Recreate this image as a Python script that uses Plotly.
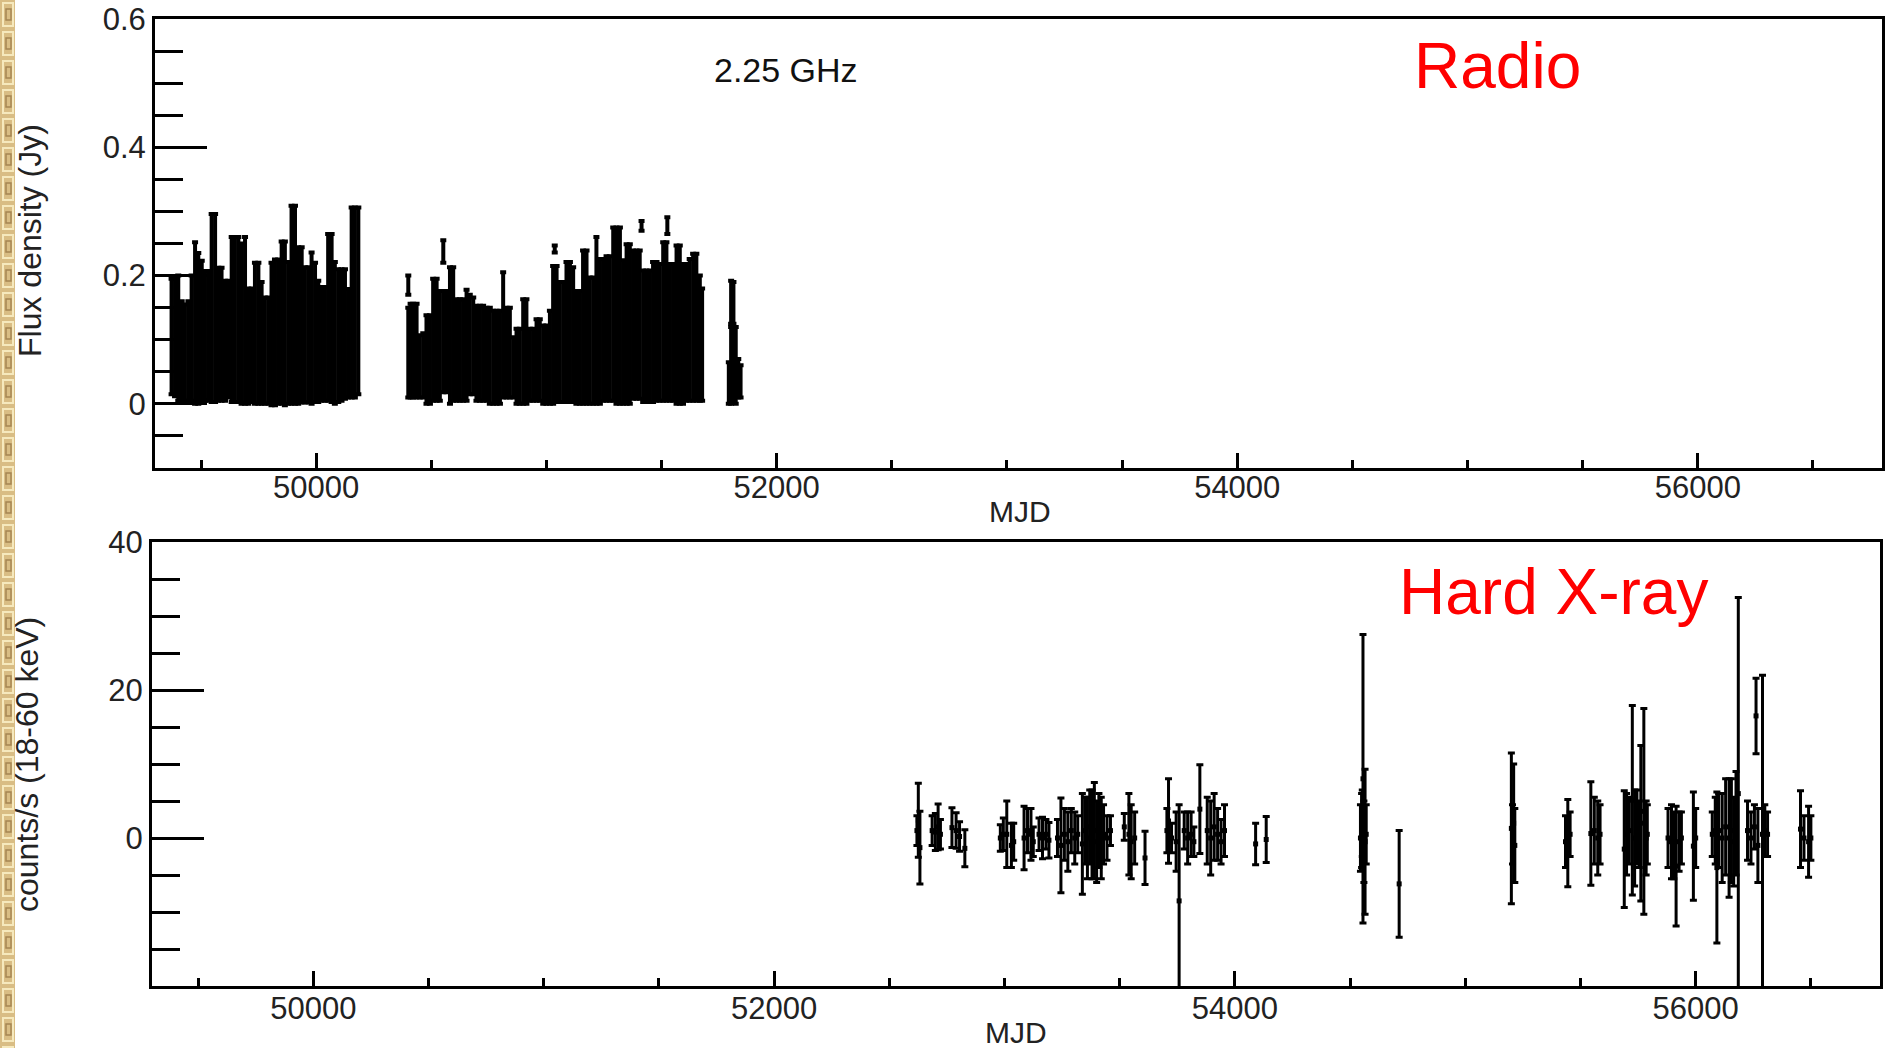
import plotly.graph_objects as go

W, H = 1886, 1048

# ---------------- Radio (2.25 GHz) : columns of error bars (MJD, upper, lower) ----------------
radio_mjd = [
    49372, 49387, 49401, 49416, 49430, 49445, 49459, 49474, 49488, 49503,
    49517, 49532, 49546, 49561, 49575, 49589, 49604, 49618, 49633, 49647,
    49662, 49676, 49691, 49705, 49720, 49734, 49749, 49763, 49777, 49792,
    49806, 49821, 49835, 49850, 49864, 49879, 49893, 49908, 49922, 49937,
    49951, 49966, 49980, 49995, 50009, 50023, 50038, 50052, 50067, 50081,
    50096, 50110, 50125, 50139, 50154, 50168, 50183,
    50400, 50410, 50421, 50436, 50450, 50465, 50479, 50494, 50508, 50523,
    50537, 50552, 50566, 50581, 50595, 50610, 50624, 50638, 50653, 50667,
    50682, 50696, 50711, 50725, 50740, 50754, 50769, 50783, 50798, 50812,
    50827, 50841, 50856, 50870, 50884, 50899, 50913, 50928, 50942, 50957,
    50971, 50986, 51000, 51015, 51029, 51044, 51058, 51073, 51087, 51102,
    51116, 51130, 51145, 51159, 51174, 51188, 51203, 51217, 51232, 51246,
    51261, 51275, 51290, 51304, 51319, 51333, 51348, 51362, 51376, 51391,
    51405, 51420, 51434, 51449, 51463, 51478, 51492, 51507, 51521, 51536,
    51550, 51565, 51579, 51593, 51608, 51622, 51637, 51651, 51666, 51676,
    51792, 51802, 51812, 51822, 51833, 51843,
    50400, 50552, 51036, 51413, 51525, 51802, 51812,
]
radio_hi = [
    0.195, 0.195, 0.200, 0.160, 0.155, 0.160, 0.200, 0.252, 0.235, 0.223,
    0.207, 0.207, 0.296, 0.296, 0.212, 0.212, 0.192, 0.192, 0.260, 0.260,
    0.260, 0.250, 0.260, 0.180, 0.180, 0.220, 0.220, 0.190, 0.166, 0.166,
    0.220, 0.225, 0.225, 0.253, 0.253, 0.221, 0.309, 0.309, 0.244, 0.244,
    0.213, 0.213, 0.236, 0.220, 0.192, 0.182, 0.182, 0.265, 0.265, 0.221,
    0.210, 0.210, 0.210, 0.179, 0.306, 0.306, 0.306,
    0.150, 0.156, 0.156, 0.156, 0.107, 0.110, 0.138, 0.138, 0.195, 0.195,
    0.176, 0.176, 0.176, 0.213, 0.213, 0.163, 0.163, 0.163, 0.178, 0.170,
    0.166, 0.153, 0.153, 0.153, 0.150, 0.150, 0.145, 0.145, 0.145, 0.205,
    0.150, 0.150, 0.104, 0.117, 0.117, 0.163, 0.163, 0.117, 0.117, 0.132,
    0.132, 0.122, 0.122, 0.145, 0.215, 0.215, 0.190, 0.190, 0.221, 0.221,
    0.213, 0.176, 0.176, 0.239, 0.239, 0.197, 0.197, 0.260, 0.226, 0.226,
    0.230, 0.230, 0.275, 0.275, 0.275, 0.224, 0.249, 0.249, 0.239, 0.239,
    0.239, 0.208, 0.208, 0.208, 0.221, 0.221, 0.218, 0.252, 0.252, 0.218,
    0.218, 0.247, 0.247, 0.218, 0.218, 0.226, 0.234, 0.234, 0.200, 0.180,
    0.065, 0.120, 0.120, 0.120, 0.070, 0.060,
    0.200, 0.255, 0.247, 0.285, 0.291, 0.192, 0.190,
]
radio_lo = [
    0.015, 0.012, 0.005, 0.005, 0.005, 0.005, 0.005, 0.000, 0.000, 0.005,
    0.005, 0.005, 0.003, 0.003, 0.005, 0.005, 0.005, 0.010, 0.003, 0.003,
    0.003, 0.000, 0.000, 0.000, 0.003, 0.000, 0.000, 0.000, 0.000, 0.000,
    -0.002, -0.002, 0.000, 0.000, -0.002, 0.000, 0.000, 0.000, 0.000, 0.002,
    0.002, 0.002, 0.000, 0.003, 0.003, 0.005, 0.005, 0.005, 0.003, 0.000,
    0.003, 0.005, 0.008, 0.010, 0.010, 0.010, 0.015,
    0.010, 0.010, 0.010, 0.010, 0.010, 0.010, 0.000, 0.000, 0.005, 0.005,
    0.005, 0.018, 0.018, 0.000, 0.005, 0.005, 0.005, 0.005, 0.005, 0.015,
    0.015, 0.005, 0.005, 0.005, 0.005, 0.000, 0.000, 0.000, 0.000, 0.010,
    0.010, 0.010, 0.010, 0.000, 0.000, 0.000, 0.000, 0.005, 0.005, 0.005,
    0.005, 0.000, 0.000, 0.000, 0.000, 0.003, 0.003, 0.003, 0.003, 0.003,
    0.003, 0.000, 0.000, 0.000, 0.000, 0.000, 0.000, 0.000, 0.000, 0.005,
    0.005, 0.005, 0.005, 0.000, 0.000, 0.000, 0.000, 0.000, 0.008, 0.008,
    0.008, 0.003, 0.003, 0.003, 0.003, 0.005, 0.005, 0.005, 0.005, 0.005,
    0.005, 0.000, 0.000, 0.000, 0.005, 0.005, 0.005, 0.005, 0.005, 0.005,
    0.000, 0.000, 0.005, 0.000, 0.010, 0.010,
    0.170, 0.220, 0.236, 0.270, 0.265, 0.125, 0.125,
]

# ---------------- Hard X-ray (18-60 keV) ----------------
xr_mjd = [
    52620, 52626, 52633, 52686, 52700, 52712, 52722, 52772, 52790, 52805, 52828,
    52982, 52995, 53010, 53030, 53040, 53085, 53100, 53115, 53125,
    53150, 53165, 53180, 53193, 53230, 53245, 53260, 53275, 53290, 53305, 53318,
    53338, 53350, 53360, 53370, 53380, 53390, 53400, 53410, 53420, 53430, 53445, 53460,
    53520, 53540, 53550, 53565, 53610, 53705, 53712, 53725, 53745, 53758,
    53780, 53795, 53810, 53822, 53848, 53880, 53895, 53910, 53925, 53940, 53955,
    54090, 54136, 54545, 54550, 54553, 54556, 54560, 54565, 54570, 54713,
    55200, 55205, 55210, 55215, 55435, 55445, 55455, 55545, 55560, 55575, 55585,
    55690, 55700, 55712, 55725, 55735, 55745, 55755, 55762, 55775, 55785, 55790,
    55880, 55895, 55905, 55915, 55928, 55938, 55990, 56000,
    56072, 56085, 56092, 56100, 56115, 56130, 56145, 56155, 56165, 56175, 56185,
    56225, 56240, 56255, 56262, 56270, 56290, 56300, 56312,
    56455, 56470, 56490, 56500,
]
xr_rate = [
    1.0, 2.4, -1.3, 1.0, 0.8, 1.5, 0.5, 1.4, 1.0, 0.2, -1.4,
    0.0, 0.5, 0.5, -1.0, -0.5, 0.0, 1.0, 0.5, -0.5,
    0.5, 0.0, 0.5, -0.3, 0.0, -1.0, 0.5, -0.5, 1.0, 0.0, 0.5,
    -0.8, 1.0, 0.0, 1.5, 0.5, 1.0, -0.5, 1.0, 0.0, 0.5, 0.0, 1.0,
    1.5, 0.5, -0.5, 0.0, -2.7, 1.0, 2.3, 0.0, -0.5, -8.5,
    1.0, 0.0, 0.5, -0.5, 3.9, 1.0, 0.0, 1.5, 0.5, -0.5, 1.0,
    -0.8, -0.2, 0.0, 1.0, 2.0, 8.0, -0.5, -0.5, 0.5, -6.2,
    1.3, 0.5, 2.0, -1.0, -0.5, -0.7, 0.5, 0.6, 1.0, 0.0, 0.5,
    -1.5, 0.5, 1.0, 5.1, 0.0, 1.5, 0.5, 2.0, 3.6, 0.0, 0.5,
    0.0, -0.5, -1.0, -3.8, -0.5, 0.0, -1.1, 0.0,
    0.5, 1.0, -4.0, 1.0, 0.0, 1.5, 0.0, 1.0, -0.5, 2.0, 6.0,
    1.0, 0.0, 1.5, 16.5, -1.0, 0.5, 1.0, 0.5,
    1.2, 0.0, -0.5, 0.0,
]
xr_err = [
    2.0, 5.0, 4.9, 2.0, 2.5, 3.1, 2.0, 2.7, 2.4, 2.0, 2.5,
    1.8, 2.2, 4.5, 3.0, 2.5, 4.3, 3.0, 3.5, 2.0,
    2.2, 2.8, 2.0, 2.4, 2.5, 6.4, 3.5, 4.0, 3.0, 3.5, 2.5,
    6.8, 4.5, 5.5, 5.0, 6.0, 6.5, 5.5, 5.0, 5.5, 4.0, 3.0, 2.0,
    1.8, 5.5, 5.0, 3.5, 3.6, 3.0, 5.7, 2.0, 4.0, 13.0,
    2.5, 3.5, 3.0, 2.0, 6.0, 4.5, 5.0, 4.5, 3.5, 3.0, 3.5,
    2.8, 3.1, 4.5, 5.0, 4.5, 19.5, 5.5, 9.8, 4.0, 7.2,
    10.2, 4.0, 8.0, 5.0, 3.5, 5.9, 3.0, 7.0, 4.5, 5.0, 4.0,
    7.9, 5.5, 4.5, 12.8, 6.5, 5.0, 4.5, 10.5, 13.9, 5.0, 4.0,
    4.0, 5.0, 4.5, 8.1, 4.0, 3.5, 7.3, 4.0,
    3.0, 4.5, 10.2, 5.0, 6.0, 6.5, 8.0, 7.0, 6.0, 7.0, 26.5,
    4.0, 3.5, 3.0, 5.1, 5.0, 21.5, 3.5, 3.0,
    5.2, 3.0, 4.8, 3.0,
]

x_ticks = [50000, 52000, 54000, 56000]
radio_yticks = [0, 0.2, 0.4, 0.6]
xray_yticks = [0, 20, 40]

radio_mid = [(a + b) / 2 for a, b in zip(radio_hi, radio_lo)]
radio_half = [(a - b) / 2 for a, b in zip(radio_hi, radio_lo)]

FONT = "Liberation Sans, Arial, sans-serif"
TICKFONT = dict(family=FONT, size=31, color="#222222")


def px_x(p):
    return p / W


def px_y(p):
    return 1 - p / H


fig = go.Figure()

fig.add_trace(go.Scatter(
    x=radio_mjd, y=radio_mid, mode="markers",
    marker=dict(size=2, color="black", symbol="square"),
    error_y=dict(type="data", array=radio_half, visible=True,
                 color="black", thickness=4, width=3),
    xaxis="x", yaxis="y", showlegend=False, hoverinfo="skip",
))

fig.add_trace(go.Scatter(
    x=xr_mjd, y=xr_rate, mode="markers",
    marker=dict(size=5, color="black", symbol="square"),
    error_y=dict(type="data", array=xr_err, visible=True,
                 color="black", thickness=3, width=3.5),
    xaxis="x2", yaxis="y2", showlegend=False, hoverinfo="skip",
))

common_x = dict(
    range=[49300, 56800], tickvals=x_ticks, ticktext=[str(v) for v in x_ticks],
    showline=True, linewidth=3, linecolor="black", mirror=True,
    ticks="inside", ticklen=15, tickwidth=3, tickcolor="black",
    minor=dict(ticks="inside", ticklen=8, tickwidth=3, tickcolor="black",
               tickvals=[49500, 50500, 51000, 51500, 52500, 53000, 53500,
                         54500, 55000, 55500, 56500]),
    tickfont=TICKFONT, showgrid=False, zeroline=False, fixedrange=True,
    automargin=False,
)
common_y = dict(
    showline=True, linewidth=3, linecolor="black", mirror=True,
    ticks="inside", ticklen=52, tickwidth=3, tickcolor="black",
    tickfont=TICKFONT, showgrid=False, zeroline=False, fixedrange=True,
    automargin=False,
)

fig.update_layout(
    width=W, height=H,
    margin=dict(l=0, r=0, t=0, b=0),
    paper_bgcolor="white", plot_bgcolor="white",
    xaxis=dict(domain=[px_x(155), px_x(1882)], anchor="y", ticklabelstandoff=-10,
               **common_x),
    yaxis=dict(domain=[px_y(468), px_y(19)], anchor="x", range=[-0.1, 0.6],
               tickvals=radio_yticks, ticktext=["0", "0.2", "0.4", "0.6"],
               minor=dict(ticks="inside", ticklen=28, tickwidth=3, tickcolor="black",
                          tickvals=[-0.05, 0.05, 0.1, 0.15, 0.25, 0.3, 0.35,
                                    0.45, 0.5, 0.55]),
               **common_y),
    xaxis2=dict(domain=[px_x(152), px_x(1880)], anchor="y2", ticklabelstandoff=-7,
                **common_x),
    yaxis2=dict(domain=[px_y(986), px_y(542)], anchor="x2", range=[-20, 40],
                tickvals=xray_yticks, ticktext=["0", "20", "40"],
                minor=dict(ticks="inside", ticklen=28, tickwidth=3, tickcolor="black",
                           tickvals=[-15, -10, -5, 5, 10, 15, 25, 30, 35]),
                **common_y),
)

annots = [
    dict(text="2.25 GHz", x=px_x(786), y=px_y(70), size=34, color="#111111", angle=0),
    dict(text="Radio", x=px_x(1497), y=px_y(66), size=64, color="#ff0000", angle=0),
    dict(text="Hard X-ray", x=px_x(1553), y=px_y(592), size=64, color="#ff0000", angle=0),
    dict(text="MJD", x=px_x(1020), y=px_y(511), size=30, color="#222222", angle=0),
    dict(text="MJD", x=px_x(1016), y=px_y(1032), size=30, color="#222222", angle=0),
    dict(text="Flux density (Jy)", x=px_x(30), y=px_y(241), size=32, color="#222222", angle=-90),
    dict(text="counts/s (18-60 keV)", x=px_x(27), y=px_y(765), size=32, color="#222222", angle=-90),
]
for a in annots:
    fig.add_annotation(text=a["text"], x=a["x"], y=a["y"], xref="paper", yref="paper",
                       xanchor="center", yanchor="middle", showarrow=False,
                       textangle=a["angle"],
                       font=dict(family=FONT, size=a["size"], color=a["color"]))

# decorative greek-key strip on the left edge
shapes = [dict(type="rect", xref="paper", yref="paper", x0=0, x1=px_x(15), y0=0, y1=1,
               fillcolor="#d9bd84", line=dict(width=0), layer="below")]
period = 29
k = 0
while k * period < H:
    top = k * period
    shapes.append(dict(type="rect", xref="paper", yref="paper",
                       x0=px_x(3), x1=px_x(13), y0=px_y(top + 26), y1=px_y(top + 3),
                       fillcolor="rgba(0,0,0,0)", line=dict(color="#f6e9bd", width=2)))
    shapes.append(dict(type="rect", xref="paper", yref="paper",
                       x0=px_x(6), x1=px_x(11), y0=px_y(top + 20), y1=px_y(top + 9),
                       fillcolor="rgba(0,0,0,0)", line=dict(color="#a58552", width=1.5)))
    k += 1
fig.update_layout(shapes=shapes)

fig.write_html("out.html")
